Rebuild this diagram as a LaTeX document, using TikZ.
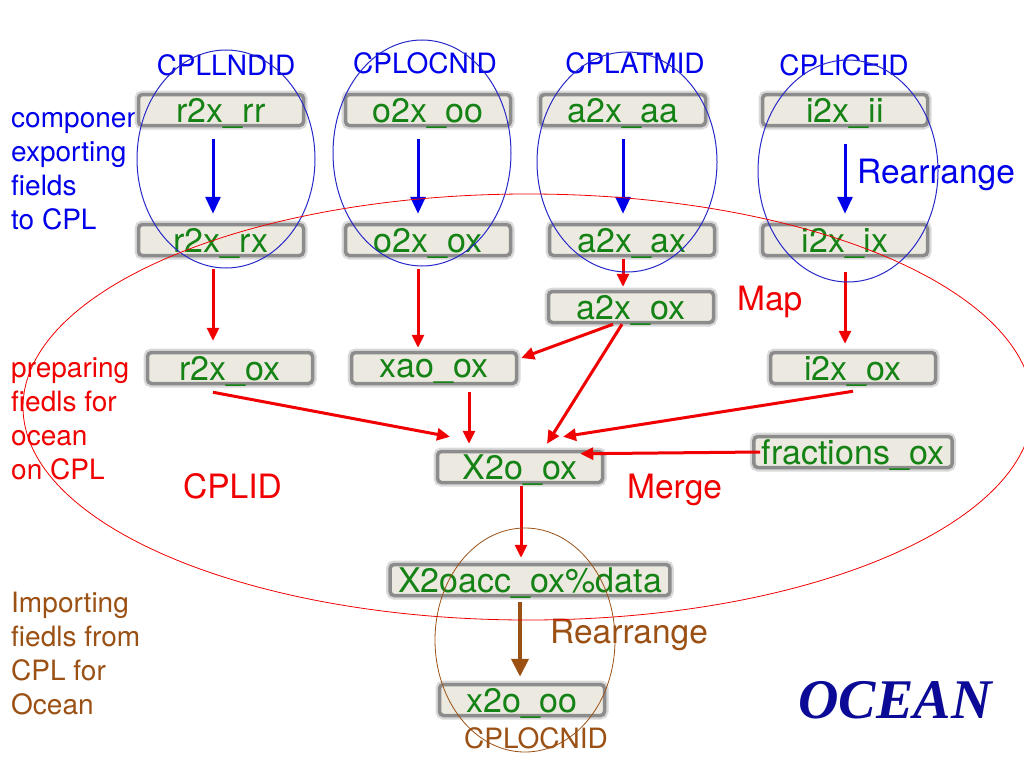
\documentclass[tikz,border=0pt]{standalone}
\usepackage{fontspec}
\setmainfont{TeX Gyre Heros}
\newfontfamily\oceanfont{Liberation Serif}
\usetikzlibrary{arrows.meta, positioning, calc}
\definecolor{fieldgreen}{RGB}{20,130,20}
\definecolor{boxfill}{RGB}{236,234,224}
\definecolor{compblue}{RGB}{0,0,235}
\definecolor{ringblue}{RGB}{40,40,200}
\definecolor{cplred}{RGB}{240,0,0}
\definecolor{ocnbrown}{RGB}{155,80,20}
\definecolor{oceanblue}{RGB}{10,10,150}

\begin{document}
\begin{tikzpicture}[
  x=1pt, y=-1pt,
  field/.style={draw=black!45, line width=3.5pt, fill=boxfill, rounded corners=4pt, minimum width=165pt, minimum height=31pt, inner xsep=8pt, inner ysep=1pt, text depth=0pt, text=fieldgreen, font=\fontsize{34}{40}\selectfont, preaction={draw=black!15, line width=8pt}},
  compid/.style={anchor=base, inner sep=0pt, font=\fontsize{28}{34}\selectfont},
  caption/.style={anchor=north west, align=left, inner sep=0pt, font=\fontsize{28}{34}\selectfont},
  action/.style={anchor=base west, inner sep=0pt, font=\fontsize{33.5}{40}\selectfont},
  bluearrow/.style={-{Triangle[length=17pt, width=15pt]}, compblue, line width=3pt},
  redarrow/.style={-{Triangle[length=13pt, width=12pt]}, cplred, line width=3pt},
  brownarrow/.style={-{Triangle[length=18pt, width=17pt]}, ocnbrown, line width=4pt},
]
\useasboundingbox (0,0) rectangle (1024,768);

% side captions (under the boxes)
\node[caption, text=compblue] (cap1) at (11,109) {component\\exporting\\fields\\to CPL};
\node[caption, text=cplred] (cap2) at (11,357) {preparing\\fiedls for\\ocean\\on CPL};
\node[caption, text=ocnbrown] (cap3) at (11,592) {Importing\\fiedls from\\CPL for\\Ocean};

% component ids
\node[compid, text=compblue] (lnd) at (226,75) {CPLLNDID};
\node[compid, text=compblue] (ocn) at (425,73) {CPLOCNID};
\node[compid, text=compblue] (atm) at (635,73) {CPLATMID};
\node[compid, text=compblue] (ice) at (844,75) {CPLICEID};

% fields exported by the components
\node[field] (r2xrr) at (221,110) {r2x\_rr};
\node[field] (o2xoo) at (428,110) {o2x\_oo};
\node[field] (a2xaa) at (623,110) {a2x\_aa};
\node[field] (i2xii) at (845,110) {i2x\_ii};

% rearranged on CPL
\node[field] (r2xrx) at (221,240) {r2x\_rx};
\node[field] (o2xox) at (428,240) {o2x\_ox};
\node[field] (a2xax) at (632,240) {a2x\_ax};
\node[field] (i2xix) at (845,240) {i2x\_ix};
\node[field] (a2xox) at (631,307) {a2x\_ox};

% on the ocean grid
\node[field] (r2xox) at (230,368) {r2x\_ox};
\node[field] (xaoox) at (434,368) {xao\_ox};
\node[field] (i2xox) at (853,368) {i2x\_ox};
\node[field] (frac) at (853,452) {fractions\_ox};
\node[field] (x2oox) at (520,467) {X2o\_ox};
\node[field] (x2oacc) at (530,580) {X2oacc\_ox\%data};
\node[field] (x2ooo) at (522,700) {x2o\_oo};

% step names
\node[action, text=compblue] (rearr1) at (857,183) {Rearrange};
\node[action, text=cplred] (map) at (737,310) {Map};
\node[action, text=cplred] (cplid) at (183,498) {CPLID};
\node[action, text=cplred] (merge) at (627,498) {Merge};
\node[action, text=ocnbrown] (rearr2) at (550,643) {Rearrange};
\node[compid, text=ocnbrown] (ocn2) at (536,748) {CPLOCNID};
\node[font=\oceanfont\bfseries\itshape\fontsize{56}{60}\selectfont, text=oceanblue, inner sep=0pt] (ocean) at (895,700) {OCEAN};

% Rearrange: component -> CPL
\draw[bluearrow, shorten <=12pt, shorten >=9pt] ([xshift=-8pt]r2xrr.south) -- ([xshift=-8pt]r2xrx.north);
\draw[bluearrow, shorten <=12pt, shorten >=9pt] ([xshift=-10pt]o2xoo.south) -- ([xshift=-10pt]o2xox.north);
\draw[bluearrow, shorten <=12pt, shorten >=9pt] (a2xaa.south) -- ([xshift=-9pt]a2xax.north);
\draw[bluearrow, shorten <=17pt, shorten >=9pt] (i2xii.south) -- (i2xix.north);

% Map onto the ocean grid
\draw[redarrow, shorten <=2pt, shorten >=3pt] ([xshift=-9pt]a2xax.south) -- ([xshift=-8pt]a2xox.north);
\draw[redarrow, shorten <=12pt, shorten >=10pt] ([xshift=-8pt]r2xrx.south) -- ([xshift=-17pt]r2xox.north);
\draw[redarrow, shorten <=12pt, shorten >=3pt] ([xshift=-10pt]o2xox.south) -- ([xshift=-16pt]xaoox.north);
\draw[redarrow, shorten <=15pt, shorten >=7pt] (i2xix.south) -- ([xshift=-8pt]i2xox.north);
\draw[redarrow] ([xshift=-18pt]a2xox.south) -- ([xshift=3pt, yshift=10pt]xaoox.east);

% Merge
\draw[redarrow] ([xshift=-9pt]a2xox.south) -- ([xshift=27pt, yshift=6pt]x2oox.north);
\draw[redarrow] ([xshift=-17pt, yshift=-7pt]r2xox.south) -- ([xshift=-70pt, yshift=13pt]x2oox.north);
\draw[redarrow] ([xshift=35pt, yshift=-7pt]xaoox.south) -- ([xshift=-51pt, yshift=6pt]x2oox.north);
\draw[redarrow] ([yshift=-6pt]i2xox.south) -- ([xshift=43pt, yshift=13pt]x2oox.north);
\draw[redarrow] ([xshift=8pt]frac.west) -- ([xshift=-24pt, yshift=-4pt]x2oox.north east);
\draw[redarrow, shorten <=2pt, shorten >=5pt] ([xshift=1pt]x2oox.south) -- ([xshift=-9pt]x2oacc.north);

% Rearrange: CPL -> ocean
\draw[brownarrow, shorten <=5pt, shorten >=6pt] ([xshift=-10pt]x2oacc.south) -- ([xshift=-2pt]x2ooo.north);

% groups on the processes
\draw[ringblue, line width=1pt] (226,159) ellipse [x radius=89pt, y radius=109pt];
\draw[ringblue, line width=1pt] (422,153) ellipse [x radius=89pt, y radius=113pt];
\draw[ringblue, line width=1pt] (627,162) ellipse [x radius=90pt, y radius=110pt];
\draw[ringblue, line width=1pt] (848,171) ellipse [x radius=90pt, y radius=111pt];
\draw[cplred, line width=0.8pt] (528,407) ellipse [x radius=505pt, y radius=213pt];
\draw[ocnbrown, line width=0.8pt] (525,640) ellipse [x radius=90pt, y radius=112pt];
\end{tikzpicture}
\end{document}
